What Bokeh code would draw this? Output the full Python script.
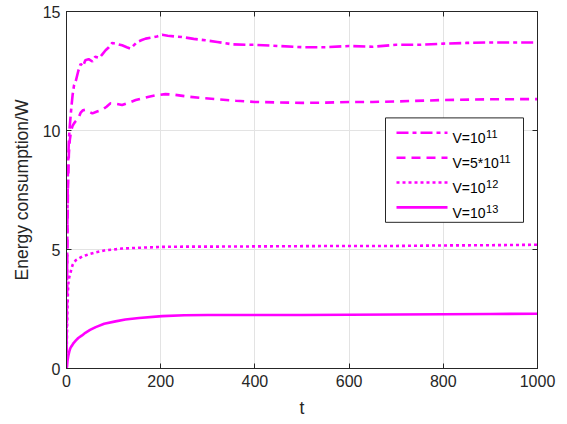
from bokeh.plotting import figure
from bokeh.models import Range1d, LinearAxis, FixedTicker, ColumnDataSource
from bokeh.core.properties import value
from bokeh.embed import file_html
from bokeh.resources import INLINE

# ---- data ----
t1 = [0, 1, 2, 3, 5, 7, 10, 13, 16, 20, 25, 30, 35, 40, 47, 55, 61, 70, 76, 83, 90, 97,
      105, 118, 128, 136, 150, 160, 168, 180, 192, 203, 215, 230, 245, 270, 295, 320,
      352, 380, 400, 450, 500, 550, 600, 650, 700, 750, 800, 850, 900, 950, 1000]
y1 = [0, 3.5, 6.5, 8.3, 9.6, 10.2, 10.9, 11.5, 11.9, 12.1, 12.5, 12.8, 12.7, 12.95, 13.0,
      12.9, 13.1, 13.05, 13.2, 13.37, 13.5, 13.68, 13.65, 13.58, 13.5, 13.44, 13.72, 13.8,
      13.86, 13.9, 13.95, 14.02, 13.98, 13.95, 13.93, 13.85, 13.79, 13.72, 13.62, 13.6,
      13.6, 13.55, 13.5, 13.5, 13.55, 13.52, 13.6, 13.6, 13.65, 13.68, 13.7, 13.7, 13.7]

t2 = [0, 1, 2, 3, 5, 7, 10, 13, 16, 19, 25, 30, 35, 40, 47, 55, 65, 76, 85, 93, 105,
      118, 130, 147, 160, 175, 190, 210, 230, 260, 290, 323, 360, 400, 450, 500, 550,
      600, 650, 700, 800, 900, 1000]
y2 = [0, 3.0, 5.5, 7.5, 9.0, 9.6, 10.0, 10.2, 10.3, 10.38, 10.5, 10.75, 10.85, 10.87,
      10.8, 10.72, 10.8, 10.87, 11.0, 11.14, 11.12, 11.07, 11.15, 11.28, 11.35, 11.42,
      11.48, 11.53, 11.5, 11.42, 11.36, 11.31, 11.25, 11.2, 11.18, 11.16, 11.17, 11.2,
      11.2, 11.22, 11.28, 11.31, 11.32]

t3 = [0, 1, 2, 3, 4, 6, 8, 10, 13, 16, 20, 26, 33, 40, 47, 60, 83, 100, 118, 150, 203,
      250, 300, 400, 500, 600, 700, 800, 900, 1000]
y3 = [0, 1.5, 2.5, 3.2, 3.6, 3.85, 3.97, 4.15, 4.35, 4.46, 4.55, 4.62, 4.7, 4.75, 4.8,
      4.87, 4.97, 5.0, 5.04, 5.07, 5.11, 5.12, 5.12, 5.13, 5.14, 5.15, 5.15, 5.17, 5.18, 5.2]

t4 = [0, 1, 2, 4, 6, 8, 10, 12, 15, 20, 25, 33, 40, 50, 62, 80, 104, 125, 154, 203,
      250, 300, 400, 500, 600, 700, 800, 900, 1000]
y4 = [0, 0.07, 0.3, 0.55, 0.72, 0.85, 0.92, 0.97, 1.07, 1.18, 1.28, 1.39, 1.5, 1.62,
      1.74, 1.88, 1.98, 2.06, 2.12, 2.2, 2.24, 2.25, 2.25, 2.25, 2.26, 2.27, 2.28, 2.29, 2.3]

label_base = ["V=10", "V=5*10", "V=10", "V=10"]
label_exp = ["11", "11", "12", "13"]
x_ticks = [0, 200, 400, 600, 800, 1000]
y_ticks = [0, 5, 10, 15]

FONT = "Liberation Sans"
AX = "#262626"
MAG = "#ff00ff"
DASHES = ["12 4 4 4", "9 6", "3 3", "solid"]

# layout (pixels)
FL, FT, FW, FH = 66, 11, 471, 359      # frame left, top, width, height
XMIN, XMAX, YMIN, YMAX = 0, 1000, 0, 15

p = figure(width=FL + FW + 22, height=FT + FH + 50, output_backend="svg",
           toolbar_location=None,
           x_range=Range1d(XMIN, XMAX), y_range=Range1d(YMIN, YMAX),
           min_border_left=FL, min_border_right=22, min_border_top=FT,
           min_border_bottom=50)
p.background_fill_color = "white"
p.border_fill_color = "white"
p.outline_line_color = AX
p.outline_line_width = 1

for ax in (p.xaxis[0], p.yaxis[0]):
    ax.major_tick_in = 5
    ax.major_tick_out = 0
    ax.minor_tick_line_color = None
    ax.axis_line_color = AX
    ax.major_tick_line_color = AX
    ax.major_label_text_font = FONT
    ax.major_label_text_font_size = "16px"
    ax.major_label_text_color = AX
    ax.axis_label_text_font = FONT
    ax.axis_label_text_font_size = "17.5px"
    ax.axis_label_text_font_style = "normal"
    ax.axis_label_text_color = AX

p.xaxis[0].ticker = FixedTicker(ticks=x_ticks)
p.yaxis[0].ticker = FixedTicker(ticks=y_ticks)
p.xaxis[0].axis_label = "t"
p.yaxis[0].axis_label = "Energy consumption/W"
p.xaxis[0].major_label_standoff = 6
p.yaxis[0].major_label_standoff = 6
p.xaxis[0].axis_label_standoff = 8
p.yaxis[0].axis_label_standoff = 8

top = LinearAxis(ticker=FixedTicker(ticks=x_ticks),
                 major_label_overrides={t: "" for t in x_ticks},
                 major_tick_in=5, major_tick_out=0, minor_tick_line_color=None,
                 axis_line_color=AX, major_tick_line_color=AX, major_label_standoff=0)
right = LinearAxis(ticker=FixedTicker(ticks=y_ticks),
                   major_label_overrides={t: "" for t in y_ticks},
                   major_tick_in=5, major_tick_out=0, minor_tick_line_color=None,
                   axis_line_color=AX, major_tick_line_color=AX, major_label_standoff=0)
p.add_layout(top, "above")
p.add_layout(right, "right")

p.xgrid.ticker = FixedTicker(ticks=x_ticks)
p.ygrid.ticker = FixedTicker(ticks=y_ticks)
p.grid.grid_line_color = "#e3e3e3"
p.grid.grid_line_width = 1

lw = 2.6
for tt, yy, dash in zip([t1, t2, t3, t4], [y1, y2, y3, y4], DASHES):
    p.line(tt, yy, line_color=MAG, line_width=lw, line_dash=dash)

# ---- legend, drawn by hand so that exponents can be superscripts ----
def px_to_x(px):
    return XMIN + (px - FL) / FW * (XMAX - XMIN)
def py_to_y(py):
    return YMIN + (FT + FH - py) / FH * (YMAX - YMIN)

LG_L, LG_R, LG_T, LG_B = 385, 523, 118, 223
ROW0, ROW_STEP = 133, 25
SAMPLE_L, SAMPLE_R = 396, 447
TEXT_L = 452
LEG_FS = 14
SUP_FS = 11
ADV = {"V": 0.667, "=": 0.584, "1": 0.556, "0": 0.556, "5": 0.556, "*": 0.389}

p.quad(left=[px_to_x(LG_L)], right=[px_to_x(LG_R)], top=[py_to_y(LG_T)],
       bottom=[py_to_y(LG_B)], fill_color="white", line_color=AX, line_width=1)

bx, by, sx, sy = [], [], [], []
for i in range(len(label_base)):
    row = ROW0 + i * ROW_STEP
    p.line([px_to_x(SAMPLE_L), px_to_x(SAMPLE_R)], [py_to_y(row)] * 2,
           line_color=MAG, line_width=lw, line_dash=DASHES[i])
    bx.append(px_to_x(TEXT_L))
    by.append(py_to_y(row + 5.5))
    w = sum(ADV[c] for c in label_base[i]) * LEG_FS
    sx.append(px_to_x(TEXT_L + w + 0.5))
    sy.append(py_to_y(row + 1.5))

p.text(x="x", y="y", text="text", source=ColumnDataSource(dict(x=bx, y=by, text=label_base)),
       text_font=value(FONT), text_font_size=f"{LEG_FS}px", text_color="black",
       text_baseline="alphabetic", text_align="left")
p.text(x="x", y="y", text="text", source=ColumnDataSource(dict(x=sx, y=sy, text=label_exp)),
       text_font=value(FONT), text_font_size=f"{SUP_FS}px", text_color="black",
       text_baseline="alphabetic", text_align="left")

open("out.html", "w").write(file_html(p, INLINE))
